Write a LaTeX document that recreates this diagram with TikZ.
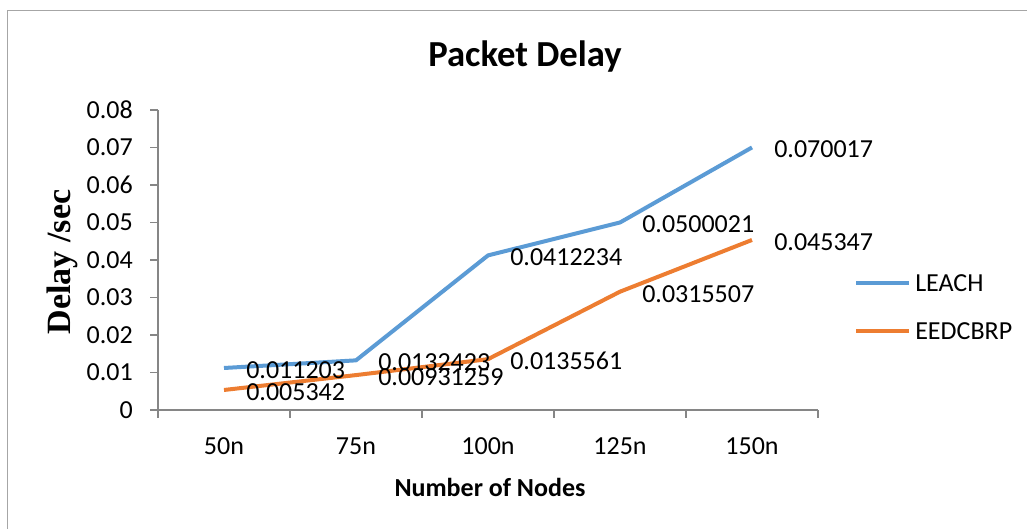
\documentclass[tikz,border=0pt]{standalone}
\usepackage{fontspec}
\setmainfont{Carlito}
\newfontfamily\serifbold{Liberation Serif}
\definecolor{leachblue}{HTML}{5B9BD5}
\definecolor{eedorange}{HTML}{ED7D31}
\definecolor{framegray}{HTML}{A6A6A6}
\definecolor{axisgray}{HTML}{868686}
\tikzset{
  axisline/.style={draw=axisgray, line width=1.1pt},
  ticklabel/.style={font=\fontsize{19.5}{23}\selectfont, inner sep=0pt},
  vallabel/.style={font=\fontsize{19.5}{23}\selectfont, inner sep=0pt, anchor=west},
  series/.style={line width=3pt, line join=round},
}
\begin{document}
\begin{tikzpicture}[x=0.75pt,y=-0.75pt]
\useasboundingbox (0,0) rectangle (1027,529);
% chart frame (top and left edges)
\draw[framegray, line width=1.3pt] (1027,10.5) -- (7.5,10.5) -- (7.5,529);

% title and axis titles
\node[font=\fontsize{27.5}{32}\selectfont\bfseries, inner sep=0pt] (title) at (525,57) {Packet Delay};
\node[font=\fontsize{25.5}{30}\selectfont\serifbold\bfseries, rotate=90, inner sep=0pt] (ytitle) at (62,262) {Delay /sec};
\node[font=\fontsize{19.5}{23}\selectfont\bfseries, inner sep=0pt] (xtitle) at (490,487) {Number of Nodes};

% axes
\coordinate (o) at (158,410);
\coordinate (ytop) at (158,110);
\coordinate (xend) at (818,410);
\draw[axisline] (ytop) -- (o) -- (xend);

% y ticks and labels
\foreach \v/\t in {0/0,1/0.01,2/0.02,3/0.03,4/0.04,5/0.05,6/0.06,7/0.07,8/0.08}{
  \draw[axisline] (150,410-37.5*\v) -- (158,410-37.5*\v);
  \node[ticklabel, anchor=east] (yl\v) at (133,410-37.5*\v) {\t};
}
% x ticks and labels
\foreach \k in {0,...,5}{
  \draw[axisline] (158+132*\k,410) -- (158+132*\k,418);
}
\foreach \k/\t in {0/50n,1/75n,2/100n,3/125n,4/150n}{
  \node[ticklabel] (xl\k) at (224+132*\k,446) {\t};
}

% data points
\coordinate (l1) at (224,367.99);
\coordinate (l2) at (356,360.34);
\coordinate (l3) at (488,255.41);
\coordinate (l4) at (620,222.49);
\coordinate (l5) at (752,147.44);
\coordinate (e1) at (224,389.97);
\coordinate (e2) at (356,375.08);
\coordinate (e3) at (488,359.16);
\coordinate (e4) at (620,291.68);
\coordinate (e5) at (752,239.95);

\draw[series, leachblue] (l1) -- (l2) -- (l3) -- (l4) -- (l5);
\draw[series, eedorange] (e1) -- (e2) -- (e3) -- (e4) -- (e5);

% value labels
\foreach \p/\t in {l1/0.011203,l2/0.0132423,l3/0.0412234,l4/0.0500021,l5/0.070017,
                   e1/0.005342,e2/0.00931259,e3/0.0135561,e4/0.0315507,e5/0.045347}{
  \node[vallabel] (v\p) at ([shift={(22,2)}]\p) {\t};
}

% legend
\coordinate (lg1a) at (856,283);
\coordinate (lg1b) at (909,283);
\coordinate (lg2a) at (856,331);
\coordinate (lg2b) at (909,331);
\draw[series, leachblue] (lg1a) -- (lg1b);
\draw[series, eedorange] (lg2a) -- (lg2b);
\node[ticklabel, anchor=west] (lgt1) at (915,283) {LEACH};
\node[ticklabel, anchor=west] (lgt2) at (915,331) {EEDCBRP};
\end{tikzpicture}
\end{document}
